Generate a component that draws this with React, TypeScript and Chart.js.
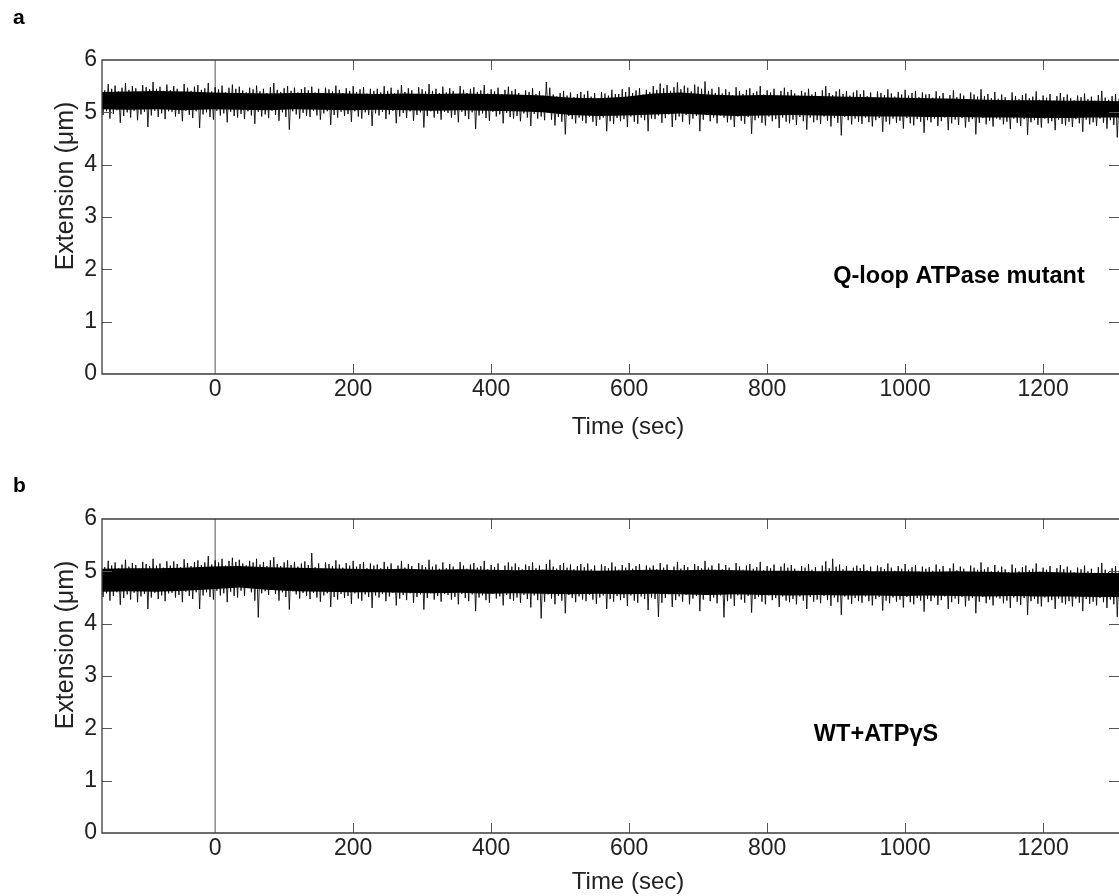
import React, { useEffect, useRef } from "react";
import { Chart, registerables } from "chart.js";
Chart.register(...registerables);

// ---------- axis definitions ----------
const X_TICKS = [0, 200, 400, 600, 800, 1000, 1200];
const Y_TICKS = [0, 1, 2, 3, 4, 5, 6];
const X_MIN = -164;
const X_MAX = 1310;
const Y_MIN = 0;
const Y_MAX = 6;
const EVENT_T = 0; // vertical marker at t = 0

// sample grids (seconds)
const SAMPLE_T0 = -165;
const SAMPLE_DT = 5;
const CORE_T0 = -165;
const CORE_DT = 40;

// ---------- panel a : Q-loop ATPase mutant (upper / lower excursions, every 5 s) ----------
const A_HI = [
  5.49, 5.42, 5.54, 5.45, 5.51, 5.4, 5.47, 5.56, 5.43, 5.5, 5.46, 5.39, 5.52, 5.48, 5.44, 5.58, 5.45, 5.49, 5.41, 5.53,
  5.42, 5.5, 5.45, 5.39, 5.54, 5.47, 5.41, 5.49, 5.52, 5.43, 5.46, 5.56, 5.4, 5.48, 5.44, 5.51, 5.38, 5.47, 5.53, 5.45,
  5.49, 5.42, 5.38, 5.47, 5.44, 5.51, 5.4, 5.45, 5.37, 5.48, 5.56, 5.43, 5.39, 5.46, 5.5, 5.41, 5.47, 5.38, 5.44, 5.48,
  5.42, 5.49, 5.38, 5.45, 5.35, 5.47, 5.44, 5.4, 5.51, 5.43, 5.37, 5.46, 5.41, 5.5, 5.39, 5.44, 5.48, 5.36, 5.45, 5.41,
  5.45, 5.38, 5.5, 5.41, 5.47, 5.36, 5.43, 5.52, 5.39, 5.46, 5.42, 5.35, 5.48, 5.44, 5.4, 5.54, 5.41, 5.45, 5.37, 5.49,
  5.38, 5.46, 5.41, 5.35, 5.5, 5.43, 5.37, 5.45, 5.48, 5.39, 5.42, 5.52, 5.36, 5.44, 5.4, 5.47, 5.34, 5.43, 5.49, 5.41,
  5.44, 5.37, 5.33, 5.42, 5.39, 5.46, 5.35, 5.4, 5.32, 5.58, 5.47, 5.34, 5.3, 5.37, 5.41, 5.32, 5.38, 5.29, 5.35, 5.39,
  5.34, 5.41, 5.3, 5.37, 5.27, 5.39, 5.36, 5.32, 5.43, 5.35, 5.35, 5.44, 5.39, 5.48, 5.37, 5.42, 5.46, 5.34, 5.43, 5.39,
  5.5, 5.43, 5.55, 5.46, 5.52, 5.41, 5.48, 5.57, 5.44, 5.51, 5.47, 5.4, 5.53, 5.49, 5.45, 5.59, 5.41, 5.45, 5.37, 5.48,
  5.36, 5.44, 5.39, 5.33, 5.48, 5.41, 5.35, 5.43, 5.46, 5.37, 5.4, 5.5, 5.34, 5.42, 5.38, 5.45, 5.32, 5.41, 5.47, 5.39,
  5.43, 5.36, 5.32, 5.41, 5.38, 5.45, 5.34, 5.39, 5.31, 5.42, 5.5, 5.37, 5.33, 5.4, 5.44, 5.35, 5.41, 5.32, 5.38, 5.42,
  5.35, 5.42, 5.31, 5.38, 5.28, 5.4, 5.37, 5.33, 5.44, 5.36, 5.3, 5.39, 5.34, 5.43, 5.32, 5.37, 5.41, 5.29, 5.38, 5.34,
  5.35, 5.28, 5.4, 5.31, 5.37, 5.26, 5.33, 5.42, 5.29, 5.36, 5.32, 5.25, 5.38, 5.34, 5.3, 5.44, 5.31, 5.35, 5.27, 5.39,
  5.26, 5.34, 5.29, 5.23, 5.38, 5.31, 5.25, 5.33, 5.36, 5.27, 5.3, 5.4, 5.24, 5.32, 5.28, 5.35, 5.22, 5.31, 5.37, 5.29,
  5.34, 5.27, 5.23, 5.32, 5.29, 5.36, 5.25, 5.3, 5.22, 5.33, 5.41, 5.28, 5.24, 5.31, 5.35, 5.26,
];
const A_LO = [
  4.95, 5.02, 4.88, 4.97, 5.04, 4.8, 4.93, 5.0, 4.9, 5.03, 4.85, 4.96, 5.01, 4.72, 4.94, 5.03, 4.91, 4.98, 4.87, 5.02,
  5.01, 4.92, 4.97, 4.83, 5.03, 4.95, 4.89, 5.02, 4.7, 4.96, 5.0, 4.91, 4.86, 5.03, 4.94, 4.98, 4.81, 5.01, 4.93, 4.9,
  4.97, 4.87, 5.02, 4.94, 4.78, 5.01, 4.92, 4.96, 4.89, 5.03, 4.95, 4.84, 5.0, 4.91, 4.67, 5.02, 4.96, 4.88, 4.99, 4.93,
  4.91, 5.03, 4.94, 4.86, 4.98, 5.02, 4.76, 4.95, 4.9, 5.01, 4.93, 4.97, 4.82, 5.02, 4.92, 4.88, 5.0, 4.95, 4.74, 4.98,
  4.94, 5.01, 4.87, 4.96, 5.03, 4.79, 4.92, 4.99, 4.89, 5.02, 4.84, 4.95, 5.0, 4.71, 4.93, 5.02, 4.9, 4.97, 4.86, 5.01,
  4.99, 4.9, 4.95, 4.81, 5.01, 4.93, 4.87, 5.0, 4.68, 4.94, 4.98, 4.89, 4.84, 5.01, 4.92, 4.96, 4.79, 4.99, 4.91, 4.88,
  4.93, 4.83, 4.98, 4.9, 4.74, 4.97, 4.88, 4.92, 4.85, 4.99, 4.86, 4.75, 4.91, 4.82, 4.58, 4.93, 4.87, 4.79, 4.9, 4.84,
  4.79, 4.91, 4.82, 4.74, 4.86, 4.9, 4.64, 4.83, 4.78, 4.89, 4.83, 4.87, 4.72, 4.92, 4.82, 4.78, 4.9, 4.85, 4.64, 4.88,
  4.87, 4.94, 4.8, 4.89, 4.96, 4.72, 4.85, 4.92, 4.82, 4.95, 4.77, 4.88, 4.93, 4.64, 4.86, 4.95, 4.83, 4.9, 4.79, 4.94,
  4.9, 4.81, 4.86, 4.72, 4.92, 4.84, 4.78, 4.91, 4.59, 4.85, 4.89, 4.8, 4.75, 4.92, 4.83, 4.87, 4.7, 4.9, 4.82, 4.79,
  4.86, 4.76, 4.91, 4.83, 4.67, 4.9, 4.81, 4.85, 4.78, 4.92, 4.84, 4.73, 4.89, 4.8, 4.56, 4.91, 4.85, 4.77, 4.88, 4.82,
  4.78, 4.9, 4.81, 4.73, 4.85, 4.89, 4.63, 4.82, 4.77, 4.88, 4.8, 4.84, 4.69, 4.89, 4.79, 4.75, 4.87, 4.82, 4.61, 4.85,
  4.81, 4.88, 4.74, 4.83, 4.9, 4.66, 4.79, 4.86, 4.76, 4.89, 4.71, 4.82, 4.87, 4.58, 4.8, 4.89, 4.77, 4.84, 4.73, 4.88,
  4.86, 4.77, 4.82, 4.68, 4.88, 4.8, 4.74, 4.87, 4.57, 4.81, 4.85, 4.76, 4.71, 4.88, 4.79, 4.83, 4.66, 4.86, 4.78, 4.75,
  4.82, 4.72, 4.87, 4.79, 4.63, 4.86, 4.77, 4.81, 4.74, 4.88, 4.8, 4.69, 4.85, 4.76, 4.52, 4.87,
];
// dense (solid) part of the trace, every 40 s
const A_CORE_HI = [
  5.39, 5.4, 5.41, 5.4, 5.38, 5.37, 5.36, 5.37, 5.37, 5.36,
  5.35, 5.36, 5.35, 5.36, 5.35, 5.34, 5.32, 5.28, 5.27, 5.3,
  5.36, 5.38, 5.34, 5.32, 5.33, 5.32, 5.31, 5.3, 5.29, 5.28,
  5.27, 5.26, 5.24, 5.23, 5.23, 5.22, 5.22, 5.21,
];
const A_CORE_LO = [
  5.06, 5.05, 5.06, 5.04, 5.06, 5.05, 5.04, 5.06, 5.05, 5.04,
  5.05, 5.04, 5.03, 5.04, 5.03, 5.02, 5.0, 4.95, 4.93, 4.94,
  4.96, 4.98, 4.95, 4.93, 4.94, 4.95, 4.94, 4.93, 4.92, 4.92,
  4.91, 4.91, 4.9, 4.9, 4.89, 4.89, 4.9, 4.9,
];

// ---------- panel b : WT+ATPγS ----------
const B_HI = [
  5.15, 5.08, 5.2, 5.11, 5.17, 5.06, 5.13, 5.22, 5.09, 5.16, 5.12, 5.05, 5.18, 5.14, 5.1, 5.24, 5.11, 5.15, 5.07, 5.19,
  5.11, 5.19, 5.14, 5.08, 5.23, 5.16, 5.1, 5.18, 5.21, 5.12, 5.17, 5.29, 5.13, 5.21, 5.17, 5.24, 5.11, 5.2, 5.26, 5.18,
  5.22, 5.15, 5.11, 5.2, 5.17, 5.24, 5.13, 5.18, 5.1, 5.21, 5.27, 5.14, 5.1, 5.17, 5.21, 5.12, 5.18, 5.09, 5.15, 5.19,
  5.12, 5.35, 5.08, 5.15, 5.05, 5.17, 5.14, 5.1, 5.21, 5.13, 5.07, 5.16, 5.11, 5.2, 5.09, 5.14, 5.18, 5.06, 5.15, 5.11,
  5.13, 5.06, 5.18, 5.09, 5.15, 5.04, 5.11, 5.2, 5.07, 5.14, 5.1, 5.03, 5.16, 5.12, 5.08, 5.22, 5.09, 5.13, 5.05, 5.17,
  5.06, 5.14, 5.09, 5.03, 5.18, 5.11, 5.05, 5.13, 5.16, 5.07, 5.1, 5.2, 5.04, 5.12, 5.08, 5.15, 5.02, 5.11, 5.17, 5.09,
  5.15, 5.08, 5.04, 5.13, 5.1, 5.17, 5.06, 5.11, 5.03, 5.14, 5.22, 5.09, 5.05, 5.12, 5.16, 5.07, 5.13, 5.04, 5.1, 5.14,
  5.08, 5.15, 5.04, 5.11, 5.01, 5.13, 5.1, 5.06, 5.17, 5.09, 5.03, 5.12, 5.07, 5.16, 5.05, 5.1, 5.14, 5.02, 5.11, 5.07,
  5.11, 5.04, 5.16, 5.07, 5.13, 5.02, 5.09, 5.18, 5.05, 5.12, 5.08, 5.01, 5.14, 5.1, 5.06, 5.2, 5.07, 5.11, 5.03, 5.15,
  5.04, 5.12, 5.07, 5.01, 5.16, 5.09, 5.03, 5.11, 5.14, 5.05, 5.08, 5.18, 5.02, 5.1, 5.06, 5.13, 5.0, 5.09, 5.15, 5.07,
  5.12, 5.05, 5.01, 5.1, 5.07, 5.14, 5.03, 5.08, 5.0, 5.11, 5.19, 5.06, 5.24, 5.09, 5.13, 5.04, 5.1, 5.01, 5.07, 5.11,
  5.06, 5.13, 5.02, 5.09, 4.99, 5.11, 5.08, 5.04, 5.15, 5.07, 5.01, 5.1, 5.05, 5.14, 5.03, 5.08, 5.12, 5.0, 5.09, 5.05,
  5.08, 5.01, 5.13, 5.04, 5.1, 4.99, 5.06, 5.15, 5.02, 5.09, 5.05, 4.98, 5.11, 5.07, 5.03, 5.17, 5.04, 5.08, 5.0, 5.12,
  5.01, 5.09, 5.04, 4.98, 5.13, 5.06, 5.0, 5.08, 5.11, 5.02, 5.05, 5.15, 4.99, 5.07, 5.03, 5.1, 4.97, 5.06, 5.12, 5.04,
  5.09, 5.02, 4.98, 5.07, 5.04, 5.11, 5.0, 5.05, 4.97, 5.08, 5.16, 5.03, 4.99, 5.06, 5.1, 5.01,
];
const B_LO = [
  4.51, 4.58, 4.44, 4.53, 4.6, 4.36, 4.49, 4.56, 4.46, 4.59, 4.41, 4.52, 4.57, 4.28, 4.5, 4.59, 4.47, 4.54, 4.43, 4.58,
  4.59, 4.5, 4.55, 4.41, 4.61, 4.53, 4.47, 4.6, 4.28, 4.54, 4.6, 4.51, 4.46, 4.63, 4.54, 4.58, 4.41, 4.61, 4.53, 4.5,
  4.63, 4.53, 4.68, 4.6, 4.44, 4.12, 4.58, 4.62, 4.55, 4.67, 4.57, 4.44, 4.6, 4.51, 4.27, 4.62, 4.56, 4.48, 4.59, 4.53,
  4.47, 4.59, 4.5, 4.42, 4.54, 4.58, 4.32, 4.51, 4.46, 4.57, 4.49, 4.53, 4.38, 4.58, 4.48, 4.44, 4.56, 4.51, 4.3, 4.54,
  4.5, 4.57, 4.43, 4.52, 4.59, 4.35, 4.48, 4.55, 4.45, 4.58, 4.4, 4.51, 4.56, 4.27, 4.49, 4.58, 4.46, 4.53, 4.42, 4.57,
  4.55, 4.46, 4.51, 4.37, 4.57, 4.49, 4.43, 4.56, 4.24, 4.5, 4.54, 4.45, 4.4, 4.57, 4.48, 4.52, 4.35, 4.55, 4.47, 4.44,
  4.5, 4.4, 4.55, 4.47, 4.31, 4.54, 4.45, 4.1, 4.42, 4.56, 4.48, 4.37, 4.53, 4.44, 4.2, 4.55, 4.49, 4.41, 4.52, 4.46,
  4.43, 4.55, 4.46, 4.38, 4.5, 4.54, 4.28, 4.47, 4.42, 4.53, 4.45, 4.49, 4.34, 4.54, 4.44, 4.4, 4.52, 4.47, 4.26, 4.5,
  4.47, 4.13, 4.4, 4.49, 4.56, 4.32, 4.45, 4.52, 4.42, 4.55, 4.37, 4.48, 4.53, 4.24, 4.46, 4.55, 4.43, 4.5, 4.39, 4.54,
  4.12, 4.43, 4.48, 4.34, 4.54, 4.46, 4.4, 4.53, 4.21, 4.47, 4.51, 4.42, 4.37, 4.54, 4.45, 4.49, 4.32, 4.52, 4.44, 4.41,
  4.47, 4.37, 4.52, 4.44, 4.28, 4.51, 4.42, 4.46, 4.39, 4.53, 4.45, 4.34, 4.5, 4.41, 4.17, 4.52, 4.46, 4.38, 4.49, 4.43,
  4.4, 4.52, 4.43, 4.35, 4.47, 4.51, 4.25, 4.44, 4.39, 4.5, 4.42, 4.46, 4.31, 4.51, 4.41, 4.37, 4.49, 4.44, 4.23, 4.47,
  4.43, 4.5, 4.36, 4.45, 4.52, 4.28, 4.41, 4.48, 4.38, 4.51, 4.33, 4.44, 4.49, 4.2, 4.42, 4.51, 4.39, 4.46, 4.35, 4.5,
  4.48, 4.39, 4.44, 4.3, 4.5, 4.42, 4.36, 4.49, 4.17, 4.43, 4.47, 4.38, 4.33, 4.5, 4.41, 4.45, 4.28, 4.48, 4.4, 4.37,
  4.43, 4.33, 4.48, 4.4, 4.24, 4.47, 4.38, 4.42, 4.35, 4.49, 4.41, 4.3, 4.46, 4.37, 4.13, 4.48,
];
const B_CORE_HI = [
  5.05, 5.06, 5.06, 5.07, 5.09, 5.1, 5.08, 5.07, 5.06, 5.05,
  5.04, 5.05, 5.03, 5.04, 5.03, 5.02, 5.03, 5.02, 5.01, 5.02,
  5.03, 5.02, 5.03, 5.02, 5.01, 5.01, 5.0, 5.01, 5.0, 5.0,
  4.99, 5.0, 4.99, 4.98, 4.99, 4.98, 4.97, 4.97,
];
const B_CORE_LO = [
  4.61, 4.62, 4.61, 4.63, 4.66, 4.69, 4.65, 4.62, 4.61, 4.6,
  4.6, 4.59, 4.58, 4.59, 4.57, 4.58, 4.57, 4.56, 4.57, 4.56,
  4.57, 4.56, 4.55, 4.56, 4.55, 4.54, 4.55, 4.54, 4.54, 4.53,
  4.54, 4.53, 4.52, 4.53, 4.52, 4.52, 4.51, 4.51,
];

const FONT = '"Liberation Sans", Arial, Helvetica, sans-serif';
const TEXT_COLOR = "#222";

type PanelProps = {
  letter: string;
  note: string;
  hi: number[];
  lo: number[];
  coreHi: number[];
  coreLo: number[];
  top: number;
  height: number;
  plotTop: number;
  plotBottom: number;
  letterY: number;
  noteX: number;
  noteY: number;
  xTitleY: number;
  yTitleY: number;
};

function zigzag(hi: number[], lo: number[]) {
  const pts: { x: number; y: number }[] = [];
  hi.forEach((h, i) => {
    const t = SAMPLE_T0 + i * SAMPLE_DT;
    pts.push({ x: t, y: h });
    pts.push({ x: t + SAMPLE_DT / 2, y: lo[i] });
  });
  return pts;
}

function corePts(vals: number[]) {
  return vals.map((v, i) => ({ x: CORE_T0 + i * CORE_DT, y: v }));
}

function Panel(p: PanelProps) {
  const ref = useRef<HTMLCanvasElement | null>(null);
  useEffect(() => {
    if (!ref.current) return;
    const framePlugin = {
      id: "frame",
      afterDraw(chart: any) {
        const { ctx, chartArea: a, scales } = chart;
        ctx.save();
        ctx.strokeStyle = "#555";
        ctx.lineWidth = 1;
        ctx.beginPath();
        scales.x.ticks.forEach((t: any) => {
          if (t.value === EVENT_T) return;
          const px = Math.round(scales.x.getPixelForValue(t.value)) + 0.5;
          ctx.moveTo(px, a.bottom);
          ctx.lineTo(px, a.bottom - 10);
          ctx.moveTo(px, a.top);
          ctx.lineTo(px, a.top + 10);
        });
        scales.y.ticks.forEach((t: any) => {
          if (t.value === Y_MIN || t.value === Y_MAX) return;
          const py = Math.round(scales.y.getPixelForValue(t.value)) + 0.5;
          ctx.moveTo(a.left, py);
          ctx.lineTo(a.left + 10, py);
          ctx.moveTo(a.right, py);
          ctx.lineTo(a.right - 10, py);
        });
        ctx.stroke();
        ctx.strokeStyle = "#3c3c3c";
        ctx.lineWidth = 1.3;
        ctx.beginPath();
        ctx.moveTo(a.right, a.top);
        ctx.lineTo(a.left, a.top);
        ctx.lineTo(a.left, a.bottom);
        ctx.lineTo(a.right, a.bottom);
        ctx.stroke();
        ctx.fillStyle = TEXT_COLOR;
        ctx.font = `24px ${FONT}`;
        ctx.textAlign = "center";
        ctx.textBaseline = "middle";
        ctx.fillText("Time (sec)", 628, p.xTitleY);
        ctx.save();
        ctx.translate(66, p.yTitleY);
        ctx.rotate(-Math.PI / 2);
        ctx.font = `25px ${FONT}`;
        ctx.fillText("Extension (\u03bcm)", 0, 0);
        ctx.restore();
        ctx.fillStyle = "#000";
        ctx.font = `bold 21px ${FONT}`;
        ctx.textAlign = "left";
        ctx.textBaseline = "alphabetic";
        ctx.fillText(p.letter, 13, p.letterY);
        ctx.font = `bold 23.5px ${FONT}`;
        ctx.textAlign = "center";
        ctx.fillText(p.note, p.noteX, p.noteY);
        ctx.restore();
      },
    };

    const chart = new Chart(ref.current, {
      type: "line",
      data: {
        datasets: [
          {
            label: "core-hi",
            data: corePts(p.coreHi),
            borderWidth: 0,
            pointRadius: 0,
            backgroundColor: "#000",
            fill: "+1",
            tension: 0,
            order: 2,
          },
          {
            label: "core-lo",
            data: corePts(p.coreLo),
            borderWidth: 0,
            pointRadius: 0,
            fill: false,
            tension: 0,
            order: 2,
          },
          {
            label: "trace",
            data: zigzag(p.hi, p.lo),
            borderColor: "rgba(0,0,0,0.85)",
            borderWidth: 1,
            pointRadius: 0,
            fill: false,
            tension: 0,
            order: 1,
          },
          {
            label: "t0",
            data: [
              { x: EVENT_T, y: Y_MIN },
              { x: EVENT_T, y: Y_MAX },
            ],
            borderColor: "#555",
            borderWidth: 1,
            pointRadius: 0,
            fill: false,
            order: 3,
          },
        ],
      },
      options: {
        responsive: false,
        animation: false,
        events: [],
        layout: { padding: { top: p.plotTop, left: 0, right: 0, bottom: 0 } },
        plugins: {
          legend: { display: false },
          tooltip: { enabled: false },
        },
        scales: {
          x: {
            type: "linear",
            min: X_MIN,
            max: X_MAX,
            grid: { display: false, drawTicks: false },
            border: { display: false },
            afterBuildTicks: (s: any) => {
              s.ticks = X_TICKS.map((v) => ({ value: v }));
            },
            afterFit: (s: any) => {
              s.height = p.height - p.plotBottom;
            },
            ticks: {
              autoSkip: false,
              maxRotation: 0,
              padding: 2,
              color: TEXT_COLOR,
              font: { family: FONT, size: 23 },
              callback: (v: any) => String(v),
            },
          },
          y: {
            type: "linear",
            min: Y_MIN,
            max: Y_MAX,
            grid: { display: false, drawTicks: false },
            border: { display: false },
            afterBuildTicks: (s: any) => {
              s.ticks = Y_TICKS.map((v) => ({ value: v }));
            },
            afterFit: (s: any) => {
              s.width = 102;
            },
            ticks: {
              padding: 5,
              color: TEXT_COLOR,
              font: { family: FONT, size: 23 },
              callback: (v: any) => String(v),
            },
          },
        },
      },
      plugins: [framePlugin],
    } as any);
    return () => chart.destroy();
  }, []);
  return (
    <canvas
      ref={ref}
      width={1119}
      height={p.height}
      style={{ position: "absolute", left: 0, top: p.top, display: "block" }}
    />
  );
}

export default function App() {
  return (
    <div
      style={{
        position: "absolute",
        left: 0,
        top: 0,
        width: 1119,
        height: 896,
        background: "#fff",
        overflow: "hidden",
      }}
    >
      <Panel
        letter="a"
        note="Q-loop ATPase mutant"
        hi={A_HI}
        lo={A_LO}
        coreHi={A_CORE_HI}
        coreLo={A_CORE_LO}
        top={0}
        height={448}
        plotTop={60}
        plotBottom={374}
        letterY={24}
        noteX={959}
        noteY={283}
        xTitleY={427}
        yTitleY={186}
      />
      <Panel
        letter="b"
        note={"WT+ATP\u03b3S"}
        hi={B_HI}
        lo={B_LO}
        coreHi={B_CORE_HI}
        coreLo={B_CORE_LO}
        top={448}
        height={448}
        plotTop={71}
        plotBottom={385}
        letterY={44}
        noteX={876}
        noteY={293}
        xTitleY={434}
        yTitleY={197}
      />
    </div>
  );
}
